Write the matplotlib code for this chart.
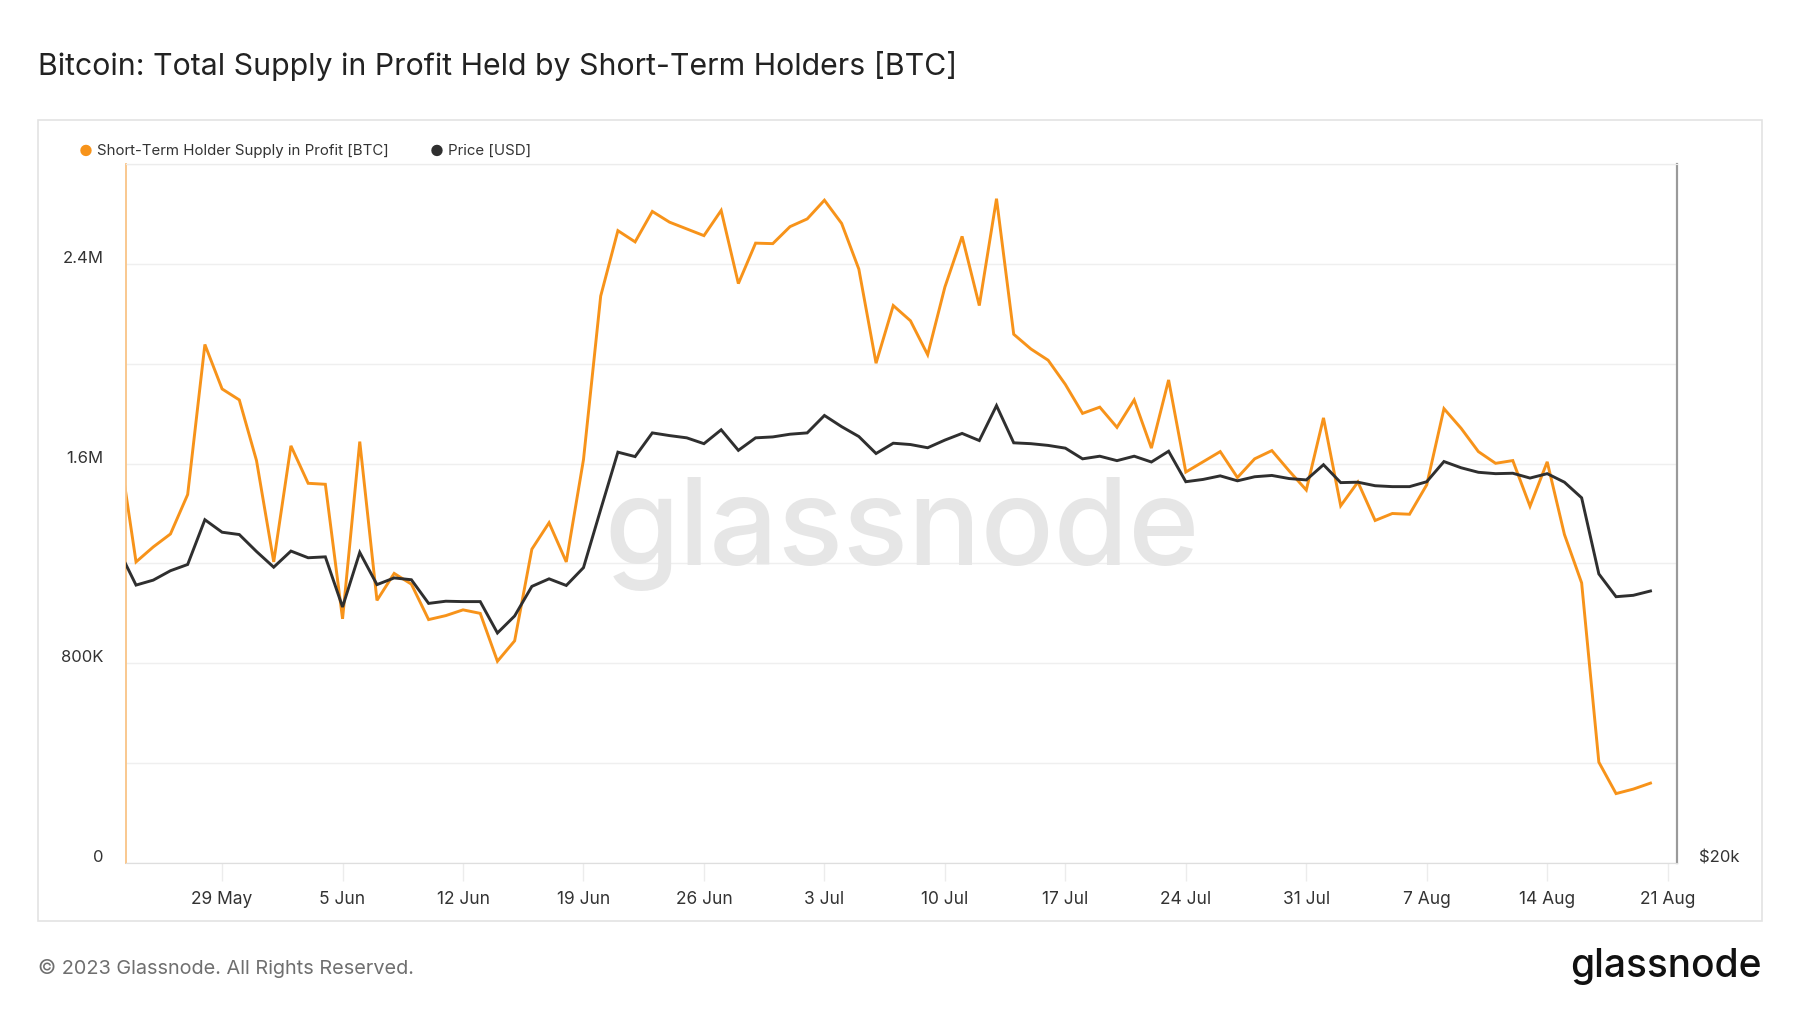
import numpy as np
import pandas as pd
import matplotlib
matplotlib.use("Agg")
import matplotlib.pyplot as plt
import matplotlib.dates as mdates
from matplotlib.transforms import ScaledTranslation
from matplotlib.patches import Rectangle
from matplotlib.ticker import FixedLocator, NullLocator

plt.rcParams['font.family'] = ['Inter', 'DejaVu Sans']

# ---------------- data ----------------
dates = pd.date_range("2023-05-23", "2023-08-20", freq="D")

supply_m = [
    1.671, 1.206, 1.266, 1.318, 1.476, 2.077, 1.899, 1.855, 1.612,            # 23-31 May
    1.206, 1.671, 1.521, 1.517, 0.978, 1.688, 1.052, 1.160, 1.117, 0.975,     # 1-10 Jun
    0.991, 1.014, 1.000, 0.808, 0.890, 1.257, 1.363, 1.206, 1.616, 2.271,     # 11-20 Jun
    2.533, 2.488, 2.610, 2.567, 2.540, 2.513, 2.614, 2.321, 2.483, 2.481,     # 21-30 Jun
    2.549, 2.580, 2.655, 2.562, 2.379, 2.002, 2.233, 2.172, 2.036, 2.307,     # 1-10 Jul
    2.510, 2.233, 2.661, 2.118, 2.059, 2.014, 1.917, 1.801, 1.826, 1.745,     # 11-20 Jul
    1.855, 1.662, 1.935, 1.566, 1.607, 1.648, 1.544, 1.619, 1.652, 1.571,     # 21-30 Jul
    1.494,                                                                    # 31 Jul
    1.783, 1.431, 1.526, 1.372, 1.400, 1.397, 1.515, 1.820, 1.741, 1.648,     # 1-10 Aug
    1.601, 1.612, 1.429, 1.607, 1.316, 1.122, 0.404, 0.278, 0.296, 0.320,     # 11-20 Aug
]
supply = [v * 1e6 for v in supply_m]

price = [
    27274, 26346, 26476, 26724, 26890, 28110, 27764, 27700, 27238,
    26818, 27250, 27070, 27094, 25780, 27214, 26358, 26534, 26486, 25872,
    25928, 25918, 25918, 25124, 25552, 26312, 26510, 26336, 26806, 28398,
    30058, 29926, 30638, 30556, 30488, 30312, 30732, 30112, 30488, 30516,
    30598, 30638, 31172, 30828, 30528, 30018, 30326, 30286, 30190, 30420,
    30622, 30406, 31478, 30338, 30312, 30260, 30178, 29860, 29938, 29806,
    29938, 29766, 30086, 29190, 29256, 29360, 29216, 29334, 29372, 29282,
    29242,
    29686, 29164, 29176, 29074, 29048, 29048, 29190, 29780, 29596, 29464,
    29424, 29436, 29296, 29424, 29176, 28728, 26640, 26044, 26080, 26192,
]

week_ticks = pd.date_range("2023-05-29", "2023-08-21", freq="7D")
supply_grid = [0, 400e3, 800e3, 1.2e6, 1.6e6, 2.0e6, 2.4e6, 2.8e6]
supply_labels = ["0", "", "800K", "", "1.6M", "", "2.4M", ""]

title = "Bitcoin: Total Supply in Profit Held by Short-Term Holders [BTC]"
legend_names = ["Short-Term Holder Supply in Profit [BTC]", "Price [USD]"]

ORANGE = "#F7931A"
DARK = "#2f2f2f"

# ---------------- figure ----------------
W, H = 1800, 1013
fig = plt.figure(figsize=(W / 100, H / 100), dpi=100)
fig.patch.set_facecolor("white")

def fx(px):
    return px / W

def fy(py):
    return 1 - py / H

# card border
fig.patches.append(Rectangle((fx(38), fy(921)), fx(1762) - fx(38), fy(120) - fy(921),
                             transform=fig.transFigure, fill=False,
                             edgecolor="#e3e3e3", linewidth=1.2, zorder=0))

fig.text(fx(38), fy(66), title, fontsize=21.8, color="#222222", va="center", ha="left")

# legend
fig.text(fx(86), fy(151), "\u25CF", fontsize=11, color=ORANGE, va="center", ha="center")
fig.text(fx(97), fy(151), legend_names[0], fontsize=10.8, color="#333333", va="center", ha="left")
fig.text(fx(437), fy(151), "\u25CF", fontsize=11, color=DARK, va="center", ha="center")
fig.text(fx(448), fy(151), legend_names[1], fontsize=10.8, color="#333333", va="center", ha="left")

# axes
left, right, top, bottom = 126, 1677, 164, 863
ax = fig.add_axes([fx(left), fy(bottom), fx(right) - fx(left), fy(top) - fy(bottom)])
ax2 = ax.twinx()

xmin = pd.Timestamp("2023-05-23 10:00")
xmax = pd.Timestamp("2023-08-21 13:00")

ax.plot(dates, supply, color=ORANGE, lw=2.1, zorder=3, solid_joinstyle="miter")
ax.set_ylim(0, 2.8e6)
ax.set_xlim(xmin, xmax)
ax.yaxis.set_major_locator(FixedLocator(supply_grid))
ax.set_yticklabels(supply_labels)
ax.grid(axis="y", color="#efefef", lw=1.0)
ax.set_axisbelow(True)
ax.tick_params(axis="y", length=0, labelsize=12, labelcolor="#333333", pad=16)
for lab in ax.get_yticklabels():
    lab.set_transform(lab.get_transform() + ScaledTranslation(0, 7 / 100, fig.dpi_scale_trans))

ax.xaxis.set_major_locator(FixedLocator(mdates.date2num(week_ticks)))
ax.xaxis.set_major_formatter(mdates.DateFormatter("%-d %b"))
ax.tick_params(axis="x", length=13, width=1, color="#ececec", labelsize=12.5,
               labelcolor="#333333", pad=7)

ax2.plot(dates, price, color=DARK, lw=2.1, zorder=4, solid_joinstyle="miter")
ax2.set_yscale("log")
ax2.set_ylim(20000, 40000)
ax2.yaxis.set_major_locator(FixedLocator([20000]))
ax2.yaxis.set_minor_locator(NullLocator())
ax2.set_yticklabels(["$20k"])
ax2.tick_params(axis="y", length=0, labelsize=12, labelcolor="#333333", pad=16)
for lab in ax2.get_yticklabels():
    lab.set_transform(lab.get_transform() + ScaledTranslation(0, 7 / 100, fig.dpi_scale_trans))
ax2.set_xlim(xmin, xmax)

for a in (ax, ax2):
    a.spines["left"].set_color("#f9c88f")
    a.spines["left"].set_linewidth(1.2)
    a.spines["right"].set_color("#9a9a9a")
    a.spines["right"].set_linewidth(1.5)
    a.spines["top"].set_color("#ececec")
    a.spines["bottom"].set_color("#dedede")
    a.patch.set_alpha(0)

# watermark
ax.text(0.5, 0.47, "glassnode", transform=ax.transAxes, fontsize=87, color="#e6e6e6",
        ha="center", va="center", zorder=1, fontweight="medium")

# footer
fig.text(fx(38), fy(968), "\u00A9 2023 Glassnode. All Rights Reserved.", fontsize=14.3,
         color="#6f6f6f", va="center", ha="left")
fig.text(fx(1762), fy(966), "glassnode", fontsize=28, color="#111111",
         va="center", ha="right", fontweight="medium")

fig.savefig("out.png", dpi=100, facecolor="white")
